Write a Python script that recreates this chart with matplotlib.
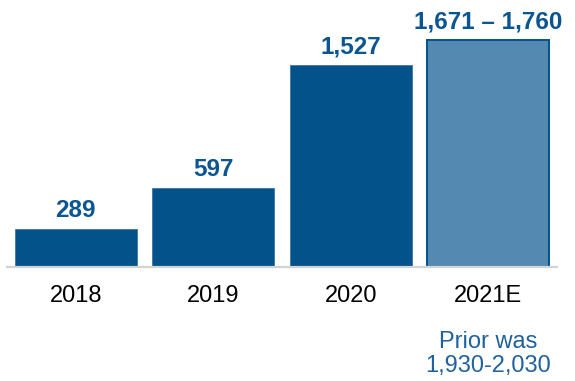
import matplotlib.pyplot as plt
from matplotlib.transforms import blended_transform_factory

# données
annees = ['2018', '2019', '2020', '2021E']
valeurs = [289, 597, 1527, 1715.5]
etiquettes = ['289', '597', '1,527', '1,671 – 1,760']
note_2021 = 'Prior was\n1,930-2,030'

bleu_fonce = '#03528A'
bleu_clair = '#548AB1'

plt.rcParams['font.family'] = ['Liberation Sans', 'DejaVu Sans']

fig = plt.figure(figsize=(5.75, 3.81), dpi=100)
ax = fig.add_axes([7 / 575, 0.2992, 550 / 575, 0.7008])

couleurs = [bleu_fonce, bleu_fonce, bleu_fonce, bleu_clair]
bords = ['#3F76A3', '#3F76A3', '#3F76A3', bleu_fonce]
barres = ax.bar(range(len(annees)), valeurs, width=0.884, color=couleurs,
                edgecolor=bords, linewidth=[0.6, 0.6, 0.6, 1.4], zorder=2)

# étiquettes au-dessus des barres
for i, (v, txt) in enumerate(zip(valeurs, etiquettes)):
    ax.annotate(txt, (i, v), xytext=(0, 5), textcoords='offset points',
                ha='center', va='bottom', fontsize=17.5, fontweight='bold',
                color='#0B5591')

ax.set_xlim(-0.5, 3.5)
ax.set_ylim(0, 2021)
ax.set_xticks(range(len(annees)))
ax.set_xticklabels(annees, fontsize=17, color='black')
ax.tick_params(axis='x', length=0, pad=13)
ax.set_yticks([])

for s in ['top', 'right', 'left']:
    ax.spines[s].set_visible(False)
ax.spines['bottom'].set_color('#D3D3D3')
ax.spines['bottom'].set_linewidth(1.6)

trans = blended_transform_factory(ax.transData, ax.transAxes)
ax.text(3, -0.325, note_2021, transform=trans, ha='center', va='center',
        fontsize=17, color='#1F62A0', linespacing=1.12)

plt.savefig('out.png', dpi=100)
